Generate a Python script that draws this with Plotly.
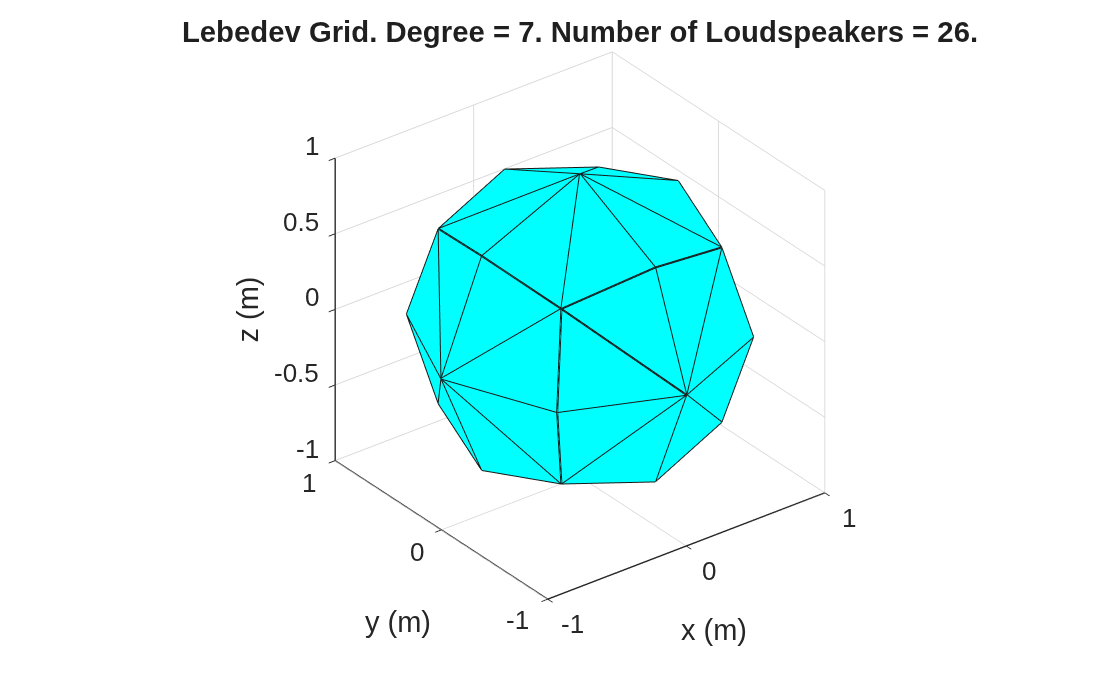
import plotly.graph_objects as go

TITLE = "Lebedev Grid. Degree = 7. Number of Loudspeakers = 26."
x_pts = [1, -1, 0, 0, 0, 0, .7071, .7071, -.7071, -.7071, .7071, .7071, -.7071, -.7071, 0, 0, 0, 0,
         .5774, .5774, .5774, .5774, -.5774, -.5774, -.5774, -.5774]
y_pts = [0, 0, 1, -1, 0, 0, .7071, -.7071, .7071, -.7071, 0, 0, 0, 0, .7071, .7071, -.7071, -.7071,
         .5774, .5774, -.5774, -.5774, .5774, .5774, -.5774, -.5774]
z_pts = [0, 0, 0, 0, 1, -1, 0, 0, 0, 0, .7071, -.7071, .7071, -.7071, .7071, -.7071, .7071, -.7071,
         .5774, -.5774, .5774, -.5774, .5774, -.5774, .5774, -.5774]
faces_i = [18]*6 + [19]*6 + [20]*6 + [21]*6 + [22]*6 + [23]*6 + [24]*6 + [25]*6
faces_j = [0, 6, 2, 14, 4, 10,  0, 6, 2, 15, 5, 11,  0, 7, 3, 16, 4, 10,  0, 7, 3, 17, 5, 11,
           1, 8, 2, 14, 4, 12,  1, 8, 2, 15, 5, 13,  1, 9, 3, 16, 4, 12,  1, 9, 3, 17, 5, 13]
faces_k = [6, 2, 14, 4, 10, 0,  6, 2, 15, 5, 11, 0,  7, 3, 16, 4, 10, 0,  7, 3, 17, 5, 11, 0,
           8, 2, 14, 4, 12, 1,  8, 2, 15, 5, 13, 1,  9, 3, 16, 4, 12, 1,  9, 3, 17, 5, 13, 1]
xy_ticks = [-1, 0, 1]
z_ticks = [-1, -0.5, 0, 0.5, 1]
z_labels = ["-1", "-0.5", "0", "0.5", "1"]

edges = set()
for a, b, c in zip(faces_i, faces_j, faces_k):
    for p, q in ((a, b), (b, c), (c, a)):
        edges.add((min(p, q), max(p, q)))
ex, ey, ez = [], [], []
for p, q in sorted(edges):
    ex += [x_pts[p], x_pts[q], None]; ey += [y_pts[p], y_pts[q], None]; ez += [z_pts[p], z_pts[q], None]

fig = go.Figure()
fig.add_trace(go.Mesh3d(x=x_pts, y=y_pts, z=z_pts, i=faces_i, j=faces_j, k=faces_k,
                        color="#00FFFF", flatshading=True, hoverinfo="skip",
                        lighting=dict(ambient=1, diffuse=0, specular=0, fresnel=0, roughness=1)))
fig.add_trace(go.Scatter3d(x=ex, y=ey, z=ez, mode="lines", line=dict(color="#1a1a1a", width=4),
                           hoverinfo="skip", showlegend=False))

def ax(vals):
    return dict(range=[-1, 1], tickmode="array", tickvals=vals, showticklabels=False,
                showgrid=True, gridcolor="#d8d8d8", gridwidth=2, showbackground=False,
                showline=True, linecolor="#262626", linewidth=3, ticks="outside", ticklen=8,
                tickcolor="#262626", tickwidth=2, zeroline=False, showspikes=False,
                title=dict(text=""))

def label(text, x, y, z, dx, dy, angle=0, size=26):
    return dict(text=text, x=x, y=y, z=z, xshift=dx, yshift=-dy, showarrow=False,
                font=dict(family="Liberation Sans", size=size, color="#262626"),
                xanchor="center", yanchor="middle", textangle=angle)

notes = []
for v, dx in zip(xy_ticks, (25, 23, 24)):
    notes.append(label(str(v), v, -1, -1, dx, 25))
for v, dx, dy in zip(xy_ticks, (-30, -24, -26), (21, 22, 22)):
    notes.append(label(str(v), -1, v, -1, dx, dy))
for v, t in zip(z_ticks, z_labels):
    n = label(t, -1, 1, v, -14, -12)
    n["xanchor"] = "right"
    notes.append(n)
notes.append(label("x (m)", 0, -1, -1, 28, 84, size=29))
notes.append(label("y (m)", -1, 0, -1, -43, 92, size=29))
notes.append(label("z (m)", -1, 1, 0, -87, 0, -90, size=29))

r = 1.8
zoom = 1.1
fig.update_layout(
    width=1104, height=658, margin=dict(l=0, r=0, t=0, b=0), paper_bgcolor="white", showlegend=False,
    title=dict(text="<b>" + TITLE + "</b>", x=572/1104, y=1-24/658, xanchor="center", yanchor="middle",
               font=dict(family="Liberation Sans", size=29.3, color="#1f1f1f")),
    scene=dict(domain=dict(x=[40/1104, 1], y=[23/658, 1]), aspectmode="manual",
               aspectratio=dict(x=zoom, y=zoom, z=zoom),
               xaxis=ax(xy_ticks), yaxis=ax(xy_ticks), zaxis=ax(z_ticks),
               annotations=notes,
               camera=dict(projection=dict(type="orthographic"), up=dict(x=0, y=0, z=1),
                           center=dict(x=0, y=0, z=0), eye=dict(x=-.527*r, y=-.687*r, z=.5*r))),
)
fig.write_html("out.html")
